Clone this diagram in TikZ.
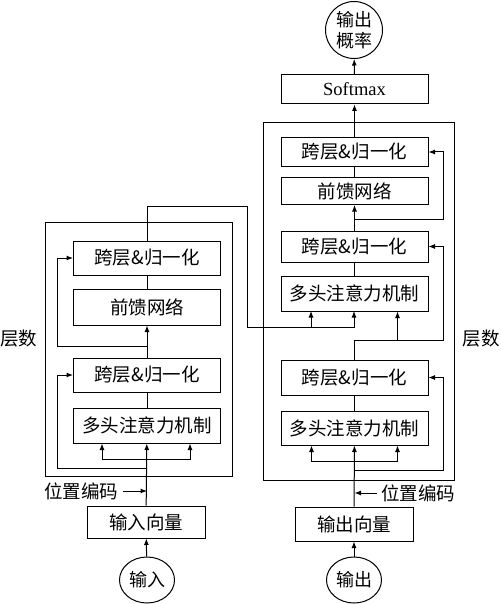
\documentclass[tikz,border=0pt]{standalone}
\usepackage{fontspec}
\setmainfont{Liberation Serif}
\newfontfamily\cjk{Noto Sans CJK SC}
\usetikzlibrary{arrows.meta,positioning,shapes.geometric}

\tikzset{
  blk/.style={draw, minimum width=147pt, inner sep=0pt, font=\cjk\fontsize{18.5}{20}\selectfont},
  lbl/.style={inner sep=0pt, font=\cjk\fontsize{18.5}{20}\selectfont},
  io/.style={draw, ellipse, minimum width=55pt, minimum height=46pt, inner sep=0pt, font=\cjk\fontsize{18}{20}\selectfont},
}

\begin{document}
\begin{tikzpicture}[x=1pt, y=-1pt, >={Latex[length=6.5pt,width=5pt]}, line width=1pt]
    \useasboundingbox (0,0) rectangle (500,604);

    % encoder
    \draw (45,222) rectangle (232,476);
    \node[blk, minimum height=35pt] (eAttn) at (147,425.5) {多头注意力机制};
    \node[blk, minimum height=34pt] (eNorm1) at (147,375) {跨层\&归一化};
    \node[blk, minimum height=36pt] (eFF) at (147,307) {前馈网络};
    \node[blk, minimum height=34pt] (eNorm2) at (147,258) {跨层\&归一化};
    \node[blk, minimum width=118pt, minimum height=32pt] (eEmb) at (146,522) {输入向量};
    \node[io] (eIn) at (147,580) {输入};
    \node[lbl] (ePos) at (81,491) {位置编码};
    \node[lbl] (eN) at (19,339) {层数};

    \draw[->] (eIn) -- (eEmb);
    \draw[->] (eEmb) -- (eAttn);
    \draw[->] ([xshift=4pt]ePos.east) -- (ePos.east -| eAttn.south);
    \coordinate (eSplit) at (147,459);
    \draw[->] (eSplit) -| ([xshift=-45pt]eAttn.south);
    \draw[->] (eSplit) -| ([xshift=43pt]eAttn.south);
    \draw[->] (147,468) -| ([xshift=-16pt]eNorm1.west) -- (eNorm1.west);
    \draw (eAttn) -- (eNorm1);
    \draw[->] (eNorm1) -- (eFF);
    \draw[->] (147,346) -| ([xshift=-16pt]eNorm2.west) -- (eNorm2.west);
    \draw (eFF) -- (eNorm2);

    % encoder output into decoder
    \coordinate (eOut) at (247,327);
    \draw (eNorm2.north) |- (247,206) -- (eOut);
    \draw[->] (eOut) -| ([xshift=-43pt]354,311);
    \draw[->] (eOut) -| (354,311);

    % decoder
    \draw (263,123) rectangle (454,480);
    \node[blk, minimum height=34pt] (dSelf) at (354.5,428) {多头注意力机制};
    \node[blk, minimum height=35pt] (dNormA) at (354.5,377.5) {跨层\&归一化};
    \node[blk, minimum height=35pt] (dCross) at (354.5,293.5) {多头注意力机制};
    \node[blk, minimum height=31pt] (dNormB) at (354.5,246.5) {跨层\&归一化};
    \node[blk, minimum height=27pt] (dFF) at (354.5,191) {前馈网络};
    \node[blk, minimum height=28pt] (dNormC) at (354.5,152) {跨层\&归一化};
    \node[blk, minimum height=29pt, font=\fontsize{18.5}{20}\selectfont] (dSoft) at (354.5,89.5) {Softmax};
    \node[draw, circle, minimum size=57pt, inner sep=0pt, align=center,
          font=\cjk\fontsize{18}{21}\selectfont] (dProb) at (354,30) {输出\\概率};
    \node[blk, minimum width=118pt, minimum height=34pt] (dEmb) at (354,524) {输出向量};
    \node[io] (dOut) at (354,580) {输出};
    \node[lbl] (dPos) at (418,493) {位置编码};
    \node[lbl] (dN) at (481,339) {层数};

    \draw[->] (dOut) -- (dEmb);
    \draw[->] (dEmb) -- (dSelf);
    \draw[->] ([xshift=-4pt]dPos.west) -- (dPos.west -| dSelf.south);
    \coordinate (dSplit) at (354.5,461);
    \draw[->] (dSplit) -| ([xshift=-43pt]dSelf.south);
    \draw[->] (dSplit) -| ([xshift=43pt]dSelf.south);
    \draw[->] (354.5,470) -| ([xshift=15pt]dNormA.east) -- (dNormA.east);
    \draw (dSelf) -- (dNormA);
    \coordinate (dJoin) at (354.5,340);
    \draw (dNormA.north) -- (dJoin);
    \draw[->] (dJoin) -| ([xshift=43pt]dCross.south);
    \draw[->] (dJoin) -| ([xshift=15pt]dNormB.east) -- (dNormB.east);
    \draw (dCross) -- (dNormB);
    \draw[->] (dNormB) -- (dFF);
    \draw[->] (354.5,219) -| ([xshift=15pt]dNormC.east) -- (dNormC.east);
    \draw (dFF) -- (dNormC);
    \draw[->] (dNormC) -- (dSoft);
    \draw[->] (dSoft) -- (dProb);
\end{tikzpicture}
\end{document}
